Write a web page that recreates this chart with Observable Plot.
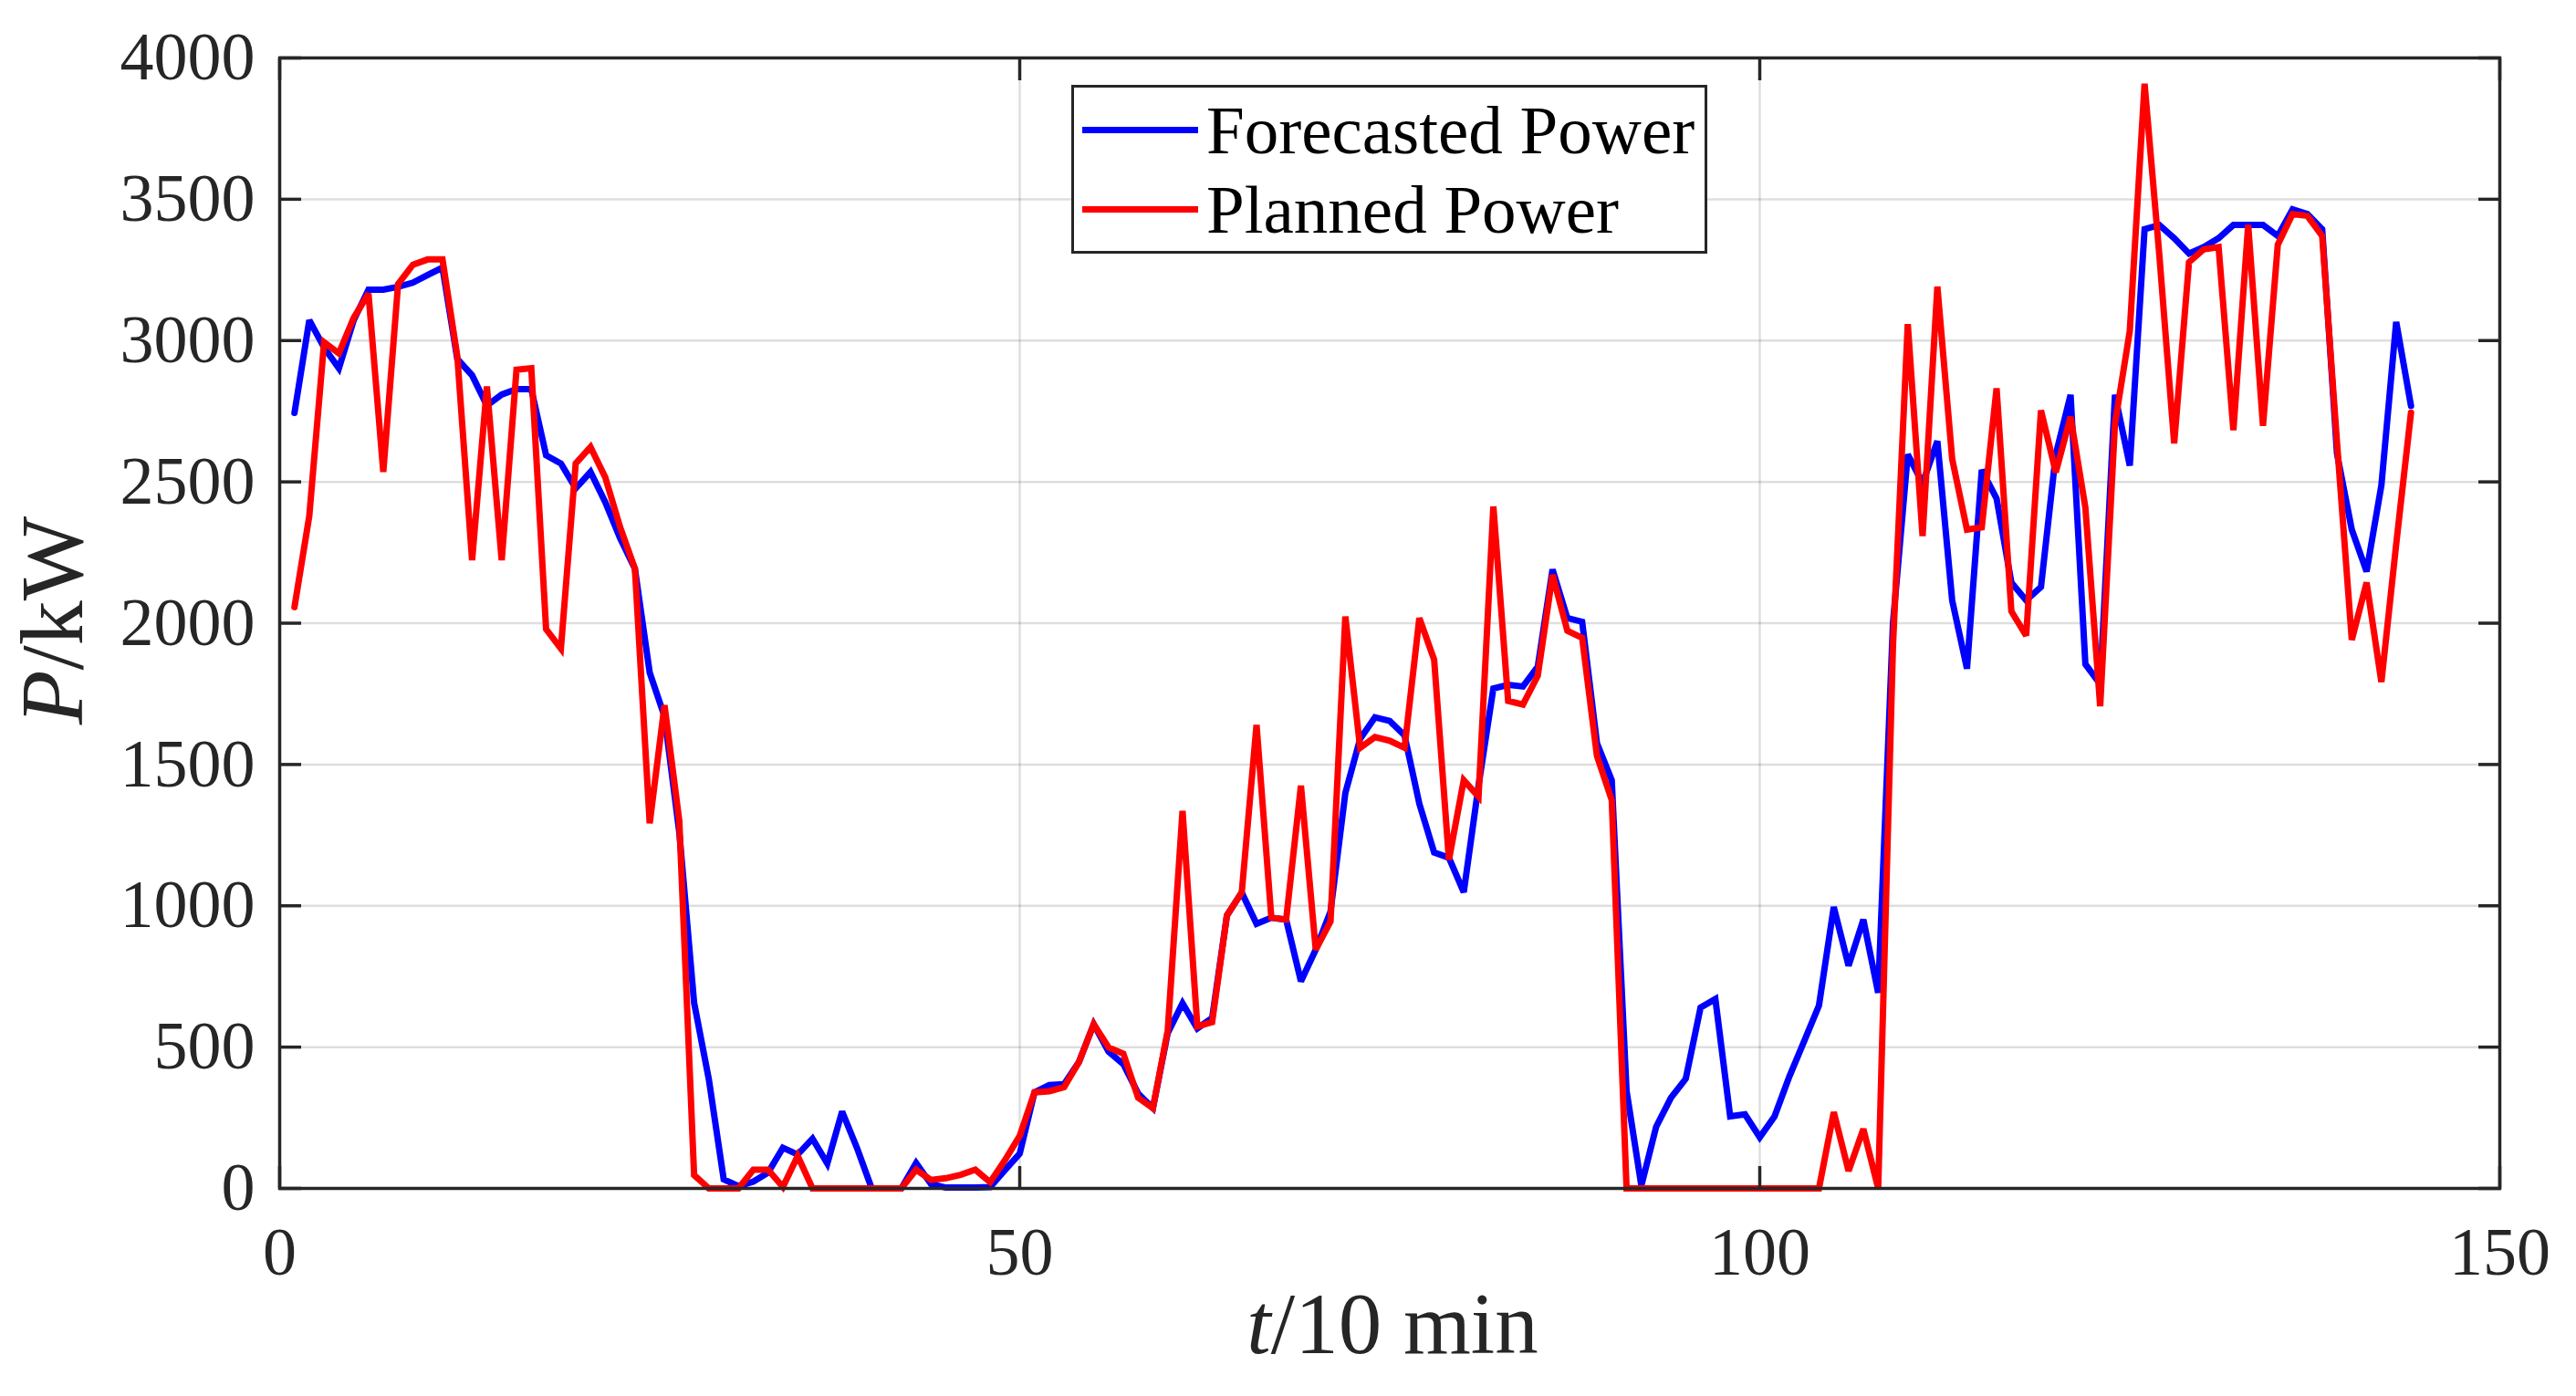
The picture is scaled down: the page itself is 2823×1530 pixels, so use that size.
<!DOCTYPE html>
<html>
<head>
<meta charset="utf-8">
<script src="https://cdn.jsdelivr.net/npm/d3@7"></script>
<script src="https://cdn.jsdelivr.net/npm/@observablehq/plot@0.6"></script>
<style>
  html, body { margin: 0; padding: 0; background: #fff; }
  #wrap { position: relative; width: 2823px; height: 1530px; }
  #legend { position: absolute; left: 1174px; top: 93px; width: 691px; height: 179px;
            border: 3.5px solid #262626; background: #fff;
            font-family: "Liberation Serif", serif; font-size: 75px; color: #000; }
  .lg-row { position: absolute; left: 0; height: 0; }
  .lg-line { position: absolute; left: 9px; width: 127px; height: 7px; top: -3.5px; }
  .lg-text { position: absolute; left: 145px; top: 0; transform: translateY(-50%); white-space: nowrap; line-height: 1; }
</style>
</head>
<body>
<div id="wrap"></div>
<script>
// ---- data ----
const seriesNames = ["Forecasted Power", "Planned Power"];
const seriesColors = ["#0000ff", "#ff0000"];
const xTicks = [0, 50, 100, 150];
const yTicks = [0, 500, 1000, 1500, 2000, 2500, 3000, 3500, 4000];

// time step index (t / 10 min), 1..144
const steps = d3.range(1, 145);

const forecasted = [
  2744, 3072, 2975, 2902, 3072, 3180, 3180, 3190, 3205, 3232,
  3258, 2935, 2877, 2770, 2809, 2828, 2828, 2594, 2565, 2477,
  2535, 2428, 2301, 2193, 1825, 1670, 1260, 657, 385, 32,
  8, 24, 56, 144, 120, 176, 88, 272, 144, 0,
  0, 0, 90, 16, 3, 3, 3, 5, 65, 123,
  340, 366, 369, 447, 581, 484, 440, 336, 284, 550,
  655, 566, 603, 966, 1047, 936, 958, 951, 733, 845,
  980, 1399, 1591, 1667, 1654, 1603, 1361, 1189, 1170, 1048,
  1425, 1769, 1782, 1776, 1846, 2190, 2018, 2005, 1575, 1444,
  345, 10, 218, 321, 388, 640, 670, 255, 262, 181,
  255, 396, 521, 647, 996, 788, 951, 692, 2000, 2597,
  2495, 2644, 2081, 1839, 2542, 2441, 2144, 2081, 2128, 2597,
  2808, 1855, 1784, 2808, 2558, 3394, 3409, 3362, 3308, 3331,
  3362, 3409, 3409, 3409, 3370, 3464, 3448, 3394, 2600, 2331,
  2183, 2488, 3066, 2769
];

const planned = [
  2057, 2379, 2994, 2955, 3080, 3166, 2535, 3200, 3268, 3287,
  3287, 2945, 2223, 2838, 2223, 2897, 2902, 1979, 1910, 2565,
  2623, 2516, 2340, 2193, 1292, 1710, 1300, 47, 0, 0,
  0, 66, 66, 5, 115, 0, 0, 0, 0, 0,
  0, 0, 66, 30, 36, 48, 66, 22, 100, 186,
  340, 344, 358, 447, 581, 499, 477, 321, 284, 559,
  1336, 573, 588, 966, 1047, 1640, 958, 951, 1425, 845,
  945, 2024, 1559, 1597, 1584, 1559, 2018, 1871, 1163, 1444,
  1386, 2413, 1725, 1712, 1814, 2171, 1973, 1948, 1530, 1374,
  0, 0, 0, 0, 0, 0, 0, 0, 0, 0,
  0, 0, 0, 0, 270, 62, 210, 0, 1920, 3058,
  2308, 3191, 2581, 2331, 2339, 2831, 2042, 1956, 2753, 2534,
  2730, 2409, 1706, 2706, 3034, 3909, 3300, 2636, 3277, 3323,
  3331, 2683, 3409, 2698, 3339, 3448, 3441, 3370, 2640, 1941,
  2144, 1792, 2280, 2745
];

const rows = [];
steps.forEach((t, i) => {
  rows.push({t, p: forecasted[i], s: seriesNames[0]});
});
steps.forEach((t, i) => {
  rows.push({t, p: planned[i], s: seriesNames[1]});
});

const axisColor = "#262626";
const fmt = d => String(d);

const chart = Plot.plot({
  width: 2823,
  height: 1530,
  marginLeft: 306,
  marginRight: 84,
  marginTop: 63,
  marginBottom: 228,
  style: { fontFamily: "'Liberation Serif', serif", fontSize: "72px", color: axisColor, background: "#fff" },
  x: { domain: [0, 150] },
  y: { domain: [0, 4000] },
  color: { domain: seriesNames, range: seriesColors },
  marks: [
    Plot.gridX(xTicks, { stroke: "#000", strokeOpacity: 0.13, strokeWidth: 2.5 }),
    Plot.gridY(yTicks, { stroke: "#000", strokeOpacity: 0.13, strokeWidth: 2.5 }),
    Plot.line(rows.filter(d => d.s === seriesNames[0]), { x: "t", y: "p", stroke: seriesColors[0], strokeWidth: 7, strokeLinejoin: "miter", strokeMiterlimit: 3 }),
    Plot.line(rows.filter(d => d.s === seriesNames[1]), { x: "t", y: "p", stroke: seriesColors[1], strokeWidth: 7, strokeLinejoin: "miter", strokeMiterlimit: 3 }),
    Plot.axisX(xTicks, { anchor: "bottom", tickSize: -24, tickPadding: 66, tickFormat: fmt, label: null, color: axisColor, strokeWidth: 3.5, fontSize: 74 }),
    Plot.axisX(xTicks, { anchor: "top", tickSize: -24, tickFormat: () => "", label: null, color: axisColor, strokeWidth: 3.5 }),
    Plot.axisY(yTicks, { anchor: "left", tickSize: -24, tickPadding: 51, tickFormat: fmt, label: null, color: axisColor, strokeWidth: 3.5, fontSize: 74 }),
    Plot.axisY(yTicks, { anchor: "right", tickSize: -24, tickFormat: () => "", label: null, color: axisColor, strokeWidth: 3.5 }),
    Plot.frame({ stroke: axisColor, strokeWidth: 3.5 })
  ]
});

const svg = d3.select(chart);
// x axis label: t/10 min
const xl = svg.append("text")
  .attr("x", 1526).attr("y", 1483)
  .attr("text-anchor", "middle")
  .attr("font-family", "'Liberation Serif', serif")
  .attr("font-size", 95)
  .attr("fill", axisColor);
xl.append("tspan").attr("font-style", "italic").text("t");
xl.append("tspan").text("/10 min");

// y axis label: P/kW
const yl = svg.append("text")
  .attr("transform", "translate(90,680) rotate(-90)")
  .attr("text-anchor", "middle")
  .attr("font-family", "'Liberation Serif', serif")
  .attr("font-size", 98)
  .attr("fill", axisColor);
yl.append("tspan").attr("font-style", "italic").text("P");
yl.append("tspan").text("/kW");

const wrap = document.getElementById("wrap");
wrap.appendChild(chart);

// legend
const legend = document.createElement("div");
legend.id = "legend";
const rowTops = [46, 133];
seriesNames.forEach((name, i) => {
  const r = document.createElement("div");
  r.className = "lg-row";
  r.style.top = rowTops[i] + "px";
  const ln = document.createElement("div");
  ln.className = "lg-line";
  ln.style.background = seriesColors[i];
  const tx = document.createElement("div");
  tx.className = "lg-text";
  tx.textContent = name;
  r.appendChild(ln); r.appendChild(tx);
  legend.appendChild(r);
});
wrap.appendChild(legend);
</script>
</body>
</html>
